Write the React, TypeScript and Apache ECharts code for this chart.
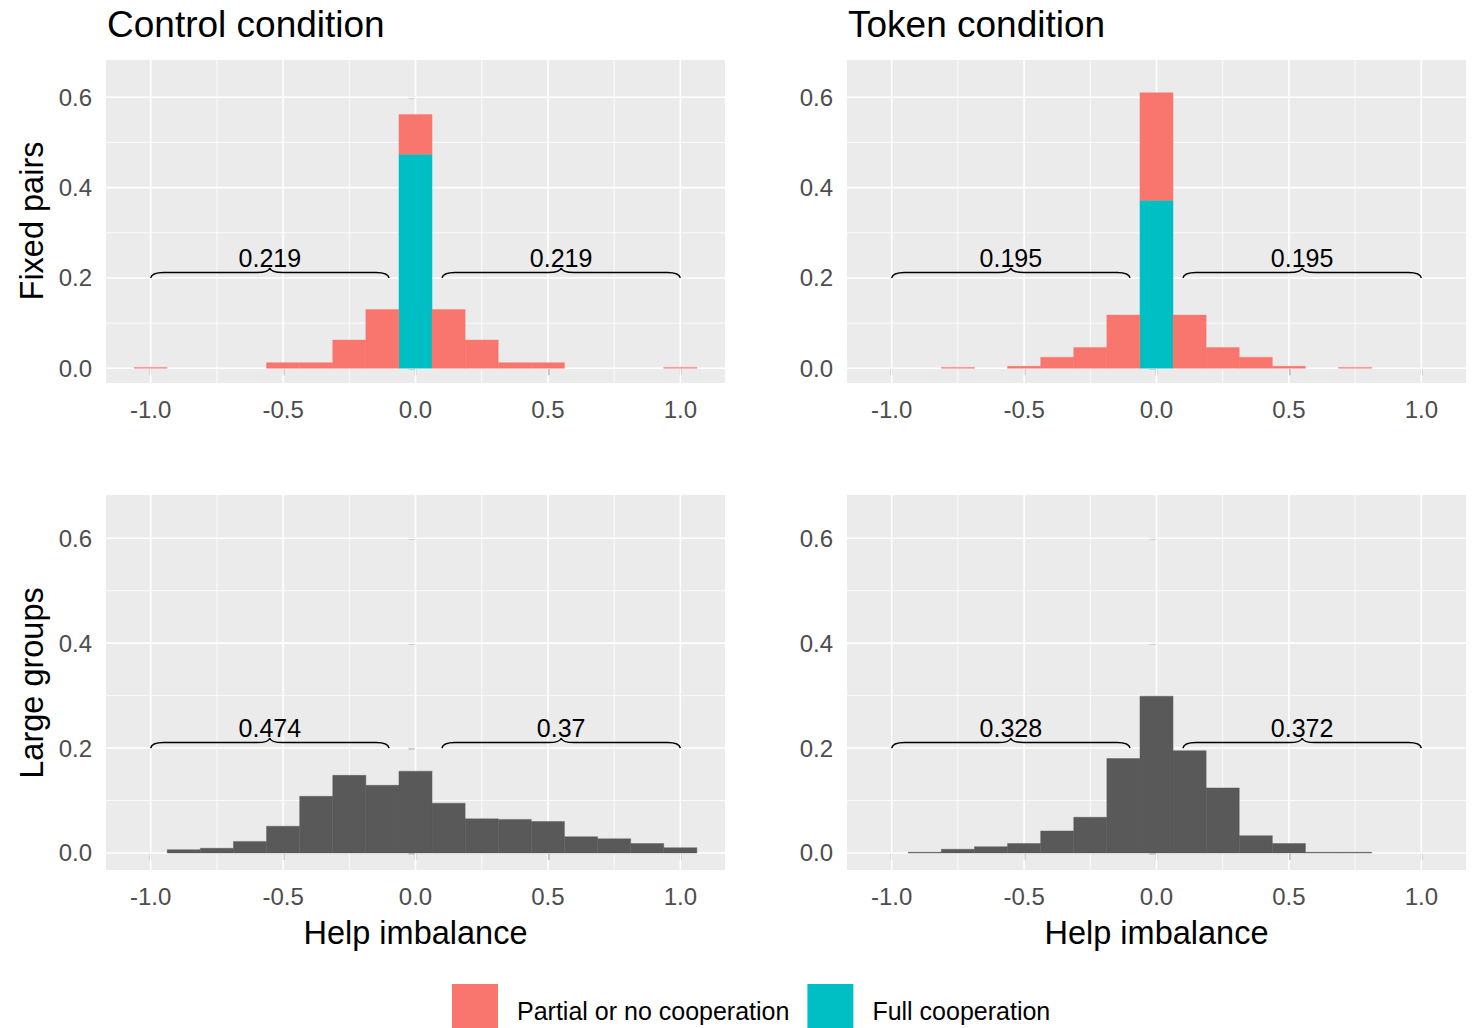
import React, { useEffect, useRef } from 'react';
import * as echarts from 'echarts';

// ---------- data ----------
const BIN_CENTERS = [-1, -0.875, -0.75, -0.625, -0.5, -0.375, -0.25, -0.125, 0, 0.125, 0.25, 0.375, 0.5, 0.625, 0.75, 0.875, 1];
const BIN_WIDTH = 0.125;

const CONTROL_FIXED_FULL = [0, 0, 0, 0, 0, 0, 0, 0, 0.474, 0, 0, 0, 0, 0, 0, 0, 0];
const CONTROL_FIXED_PARTIAL = [0.002, 0, 0, 0, 0.0125, 0.0125, 0.0625, 0.13, 0.088, 0.13, 0.0625, 0.0125, 0.0125, 0, 0, 0, 0.002];
const TOKEN_FIXED_FULL = [0, 0, 0, 0, 0, 0, 0, 0, 0.372, 0, 0, 0, 0, 0, 0, 0, 0];
const TOKEN_FIXED_PARTIAL = [0, 0, 0.002, 0, 0.0045, 0.0245, 0.046, 0.118, 0.238, 0.118, 0.046, 0.0245, 0.0045, 0, 0.002, 0, 0];
const CONTROL_LARGE = [0, 0.0063, 0.0089, 0.022, 0.051, 0.108, 0.148, 0.129, 0.156, 0.095, 0.065, 0.064, 0.06, 0.031, 0.027, 0.018, 0.01];
const TOKEN_LARGE = [0, 0.0013, 0.007, 0.012, 0.018, 0.042, 0.068, 0.18, 0.299, 0.195, 0.124, 0.033, 0.018, 0.0013, 0.0013, 0, 0];

const BRACE_RANGES = [[-1, -0.1], [0.1, 1]];
const BRACE_Y = 0.2;
const CONTROL_FIXED_BRACE_LABELS = ['0.219', '0.219'];
const TOKEN_FIXED_BRACE_LABELS = ['0.195', '0.195'];
const CONTROL_LARGE_BRACE_LABELS = ['0.474', '0.37'];
const TOKEN_LARGE_BRACE_LABELS = ['0.328', '0.372'];

const X_TICKS = [-1, -0.5, 0, 0.5, 1];
const X_MINOR = [-0.75, -0.25, 0.25, 0.75];
const Y_TICKS = [0, 0.2, 0.4, 0.6];
const Y_MINOR = [0.1, 0.3, 0.5];
const X_RANGE = [-1.16875, 1.16875];
const Y_RANGE = [-0.0325, 0.6825];

const COLUMN_TITLES = ['Control condition', 'Token condition'];
const ROW_TITLES = ['Fixed pairs', 'Large groups'];
const X_TITLE = 'Help imbalance';
const SERIES_PARTIAL = 'Partial or no cooperation';
const SERIES_FULL = 'Full cooperation';
const SERIES_ALL = 'All';

// ---------- styles / layout ----------
const FONT = '"Liberation Sans", Arial, Helvetica, sans-serif';
const COL_PARTIAL = '#F8766D';
const COL_FULL = '#00BFC4';
const COL_ALL = '#595959';
const PANEL_W = 619;
const PANELS = [
  { left: 106, top: 60, height: 323 },
  { left: 847, top: 60, height: 323 },
  { left: 106, top: 495, height: 375 },
  { left: 847, top: 495, height: 375 },
];

function stackData(base: number[], heights: number[]) {
  return BIN_CENTERS.map((c, k) => [c, base[k], base[k] + heights[k]]).filter((d) => d[2] > d[1]);
}
const ZEROS = BIN_CENTERS.map(() => 0);

const barRender = (params: any, api: any) => {
  const c = api.value(0);
  const y0 = api.value(1);
  const y1 = api.value(2);
  const a = api.coord([c - BIN_WIDTH / 2, y0]);
  const b = api.coord([c + BIN_WIDTH / 2, y1]);
  const col = api.visual('color');
  return {
    type: 'rect',
    shape: { x: a[0], y: b[1], width: b[0] - a[0], height: Math.max(a[1] - b[1], 0.8) },
    style: { fill: col, stroke: col, lineWidth: 0.4 },
  };
};

const gridRender = (params: any, api: any) => {
  const cs = params.coordSys;
  const o = api.value(0);
  const v = api.value(1);
  const major = api.value(2) === 1;
  const lw = major ? 1.6 : 0.8;
  if (o === 0) {
    const p = api.coord([v, 0]);
    return { type: 'line', shape: { x1: p[0], y1: cs.y, x2: p[0], y2: cs.y + cs.height }, style: { stroke: '#FFFFFF', lineWidth: lw } };
  }
  const p = api.coord([0, v]);
  return { type: 'line', shape: { x1: cs.x, y1: p[1], x2: cs.x + cs.width, y2: p[1] }, style: { stroke: '#FFFFFF', lineWidth: lw } };
};

const makeBraceRender = (labels: string[]) => (params: any, api: any) => {
  const p1 = api.coord([api.value(0), api.value(2)]);
  const p2 = api.coord([api.value(1), api.value(2)]);
  const y0 = p1[1];
  const h = 10;
  const hh = 5.5;
  const r = 13;
  const mx = (p1[0] + p2[0]) / 2;
  const d =
    `M${p1[0]},${y0} Q${p1[0] + 1},${y0 - hh} ${p1[0] + r},${y0 - hh} L${mx - r},${y0 - hh} ` +
    `Q${mx - 1},${y0 - hh} ${mx},${y0 - h} Q${mx + 1},${y0 - hh} ${mx + r},${y0 - hh} ` +
    `L${p2[0] - r},${y0 - hh} Q${p2[0] - 1},${y0 - hh} ${p2[0]},${y0}`;
  return {
    type: 'group',
    children: [
      { type: 'path', shape: { pathData: d }, style: { fill: 'none', stroke: '#000000', lineWidth: 1.5 } },
      {
        type: 'text',
        x: mx,
        y: y0 - 20,
        style: {
          text: labels[params.dataIndex],
          fill: '#000000',
          fontSize: 25,
          fontFamily: FONT,
          align: 'center',
          verticalAlign: 'middle',
          textAlign: 'center',
          textVerticalAlign: 'middle',
        },
      },
    ],
  };
};

function buildOption() {
  const gridData = [
    ...X_TICKS.map((v) => [0, v, 1]),
    ...X_MINOR.map((v) => [0, v, 0]),
    ...Y_TICKS.map((v) => [1, v, 1]),
    ...Y_MINOR.map((v) => [1, v, 0]),
  ];
  const braceData = BRACE_RANGES.map((r) => [r[0], r[1], BRACE_Y]);
  const braceLabels = [CONTROL_FIXED_BRACE_LABELS, TOKEN_FIXED_BRACE_LABELS, CONTROL_LARGE_BRACE_LABELS, TOKEN_LARGE_BRACE_LABELS];

  const series: any[] = [];
  PANELS.forEach((_, i) => {
    series.push({ type: 'custom', name: 'grid' + i, xAxisIndex: i, yAxisIndex: i, z: 1, silent: true, data: gridData, renderItem: gridRender });
  });
  const bar = (i: number, name: string, color: string, data: number[][]) => ({
    type: 'custom', name, xAxisIndex: i, yAxisIndex: i, z: 3, silent: true, itemStyle: { color }, data, renderItem: barRender,
  });
  series.push(bar(0, SERIES_FULL, COL_FULL, stackData(ZEROS, CONTROL_FIXED_FULL)));
  series.push(bar(0, SERIES_PARTIAL, COL_PARTIAL, stackData(CONTROL_FIXED_FULL, CONTROL_FIXED_PARTIAL)));
  series.push(bar(1, SERIES_FULL, COL_FULL, stackData(ZEROS, TOKEN_FIXED_FULL)));
  series.push(bar(1, SERIES_PARTIAL, COL_PARTIAL, stackData(TOKEN_FIXED_FULL, TOKEN_FIXED_PARTIAL)));
  series.push(bar(2, SERIES_ALL, COL_ALL, stackData(ZEROS, CONTROL_LARGE)));
  series.push(bar(3, SERIES_ALL, COL_ALL, stackData(ZEROS, TOKEN_LARGE)));
  PANELS.forEach((_, i) => {
    series.push({ type: 'custom', name: 'brace' + i, xAxisIndex: i, yAxisIndex: i, z: 5, silent: true, data: braceData, renderItem: makeBraceRender(braceLabels[i]) });
  });

  const titleText = (text: string, x: number, y: number, size: number, align: string, rotation = 0) => ({
    type: 'text',
    x,
    y,
    rotation,
    silent: true,
    style: { text, fill: '#000000', fontSize: size, fontFamily: FONT, align, verticalAlign: 'middle', textAlign: align, textVerticalAlign: 'middle' },
  });

  return {
    animation: false,
    backgroundColor: '#FFFFFF',
    textStyle: { fontFamily: FONT },
    grid: PANELS.map((p) => ({ left: p.left, top: p.top, width: PANEL_W, height: p.height, show: true, backgroundColor: '#EBEBEB', borderWidth: 0, containLabel: false })),
    xAxis: PANELS.map((_, i) => ({
      type: 'value',
      gridIndex: i,
      min: X_RANGE[0],
      max: X_RANGE[1],
      axisLine: { show: false },
      splitLine: { show: false },
      axisTick: { show: true, customValues: X_TICKS, length: 7, lineStyle: { color: '#333333', width: 1.3 } },
      axisLabel: { customValues: X_TICKS, formatter: (v: number) => v.toFixed(1), color: '#4D4D4D', fontSize: 24, fontFamily: FONT, margin: 14 },
    })),
    yAxis: PANELS.map((_, i) => ({
      type: 'value',
      gridIndex: i,
      min: Y_RANGE[0],
      max: Y_RANGE[1],
      axisLine: { show: false },
      splitLine: { show: false },
      axisTick: { show: true, customValues: Y_TICKS, length: 7, lineStyle: { color: '#333333', width: 1.3 } },
      axisLabel: { customValues: Y_TICKS, formatter: (v: number) => v.toFixed(1), color: '#4D4D4D', fontSize: 24, fontFamily: FONT, margin: 14 },
    })),
    legend: {
      data: [SERIES_PARTIAL, SERIES_FULL],
      left: 452,
      top: 984,
      padding: 0,
      itemWidth: 46,
      itemHeight: 46,
      itemGap: 18,
      icon: 'rect',
      selectedMode: false,
      formatter: '{t|{name}}',
      textStyle: {
        fontSize: 25,
        fontFamily: FONT,
        color: '#000000',
        rich: { t: { fontSize: 25, fontFamily: FONT, color: '#000000', padding: [8, 0, 0, 14] } },
      },
    },
    graphic: [
      titleText(COLUMN_TITLES[0], 107, 24, 37, 'left'),
      titleText(COLUMN_TITLES[1], 848, 24, 37, 'left'),
      titleText(ROW_TITLES[0], 32, 221, 32.5, 'center', Math.PI / 2),
      titleText(ROW_TITLES[1], 32, 683, 32.5, 'center', Math.PI / 2),
      titleText(X_TITLE, PANELS[2].left + PANEL_W / 2, 933, 32.5, 'center'),
      titleText(X_TITLE, PANELS[3].left + PANEL_W / 2, 933, 32.5, 'center'),
    ],
    series,
  };
}

export default function App() {
  const ref = useRef<HTMLDivElement>(null);
  useEffect(() => {
    if (!ref.current) return;
    const chart = echarts.init(ref.current, undefined, { renderer: 'svg' });
    chart.setOption(buildOption() as any);
    return () => chart.dispose();
  }, []);
  return <div ref={ref} style={{ position: 'fixed', left: 0, top: 0, width: 1473, height: 1028 }} />;
}
